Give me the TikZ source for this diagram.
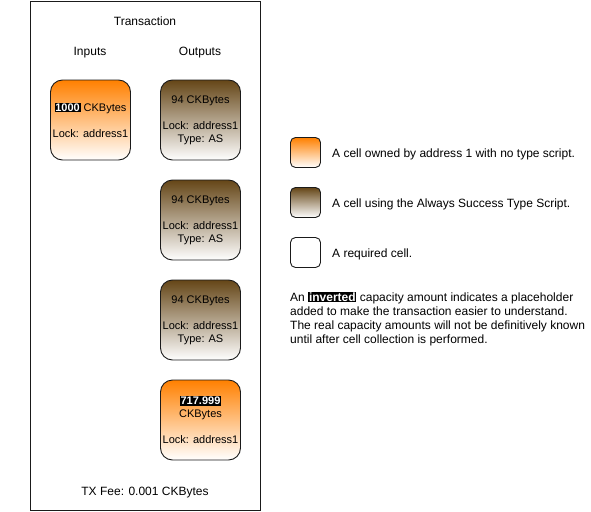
\documentclass[tikz,border=0pt]{standalone}
\usepackage{fontspec}
\setmainfont{Liberation Sans}
\definecolor{cellorange}{RGB}{255,128,0}
\definecolor{cellbrown}{RGB}{101,70,23}
\definecolor{edgegrey}{RGB}{26,26,26}
\newcommand{\inv}[1]{{\setlength{\fboxsep}{0.8pt}\colorbox{black}{\textcolor{white}{\bfseries #1}}}}
\tikzset{
  cellbase/.style={draw=edgegrey, line width=0.9pt, rounded corners=12pt,
    minimum width=80pt, minimum height=80pt, inner sep=0pt, align=center,
    font=\fontsize{11}{13}\selectfont},
  cellO/.style={cellbase, top color=cellorange, bottom color=white},
  cellB/.style={cellbase, top color=cellbrown, bottom color=white},
  cellW/.style={cellbase, fill=white},
  legbox/.style={cellbase, minimum width=30pt, minimum height=30pt, rounded corners=5pt},
  title/.style={font=\fontsize{12}{14}\selectfont, inner sep=0pt, anchor=base},
  legtext/.style={font=\fontsize{12}{14}\selectfont, inner sep=0pt, anchor=base west},
}
\begin{document}
\begin{tikzpicture}[x=1pt,y=-1pt]
\useasboundingbox (0,0) rectangle (591,511);
\draw[edgegrey, line width=0.9pt] (30,1) rectangle (260,510);
\node[title] (title) at (145,25.5) {Transaction};
\node[title] (inputs) at (90,56) {Inputs};
\node[title] (outputs) at (200,56) {Outputs};
\node[cellO] (in1) at (90.5,120) {\inv{1000} CKBytes\\[13pt]Lock: address1};
\node[cellB] (out1) at (200.5,120) {94 CKBytes\\[13pt]Lock: address1\\Type: AS};
\node[cellB] (out2) at (200.5,220) {94 CKBytes\\[13pt]Lock: address1\\Type: AS};
\node[cellB] (out3) at (200.5,320) {94 CKBytes\\[13pt]Lock: address1\\Type: AS};
\node[cellO] (out4) at (200.5,420) {\inv{717.999}\\CKBytes\\[13pt]Lock: address1};
\node[title] (fee) at (145,495.5) {TX Fee: 0.001 CKBytes};
\node[legbox, top color=cellorange, bottom color=white] (legO) at (305.5,152.5) {};
\node[legbox, top color=cellbrown, bottom color=white] (legB) at (305.5,202.5) {};
\node[legbox, fill=white] (legW) at (305.5,252.5) {};
\node[legtext] (legOt) at (332,157.5) {A cell owned by address 1 with no type script.};
\node[legtext] (legBt) at (332,207.5) {A cell using the Always Success Type Script.};
\node[legtext] (legWt) at (332,257.5) {A required cell.};
\node[legtext] (note1) at (290,301) {An \inv{inverted} capacity amount indicates a placeholder};
\node[legtext] (note2) at (290,315.5) {added to make the transaction easier to understand.};
\node[legtext] (note3) at (290,329.5) {The real capacity amounts will not be definitively known};
\node[legtext] (note4) at (290,343.5) {until after cell collection is performed.};
\end{tikzpicture}
\end{document}
